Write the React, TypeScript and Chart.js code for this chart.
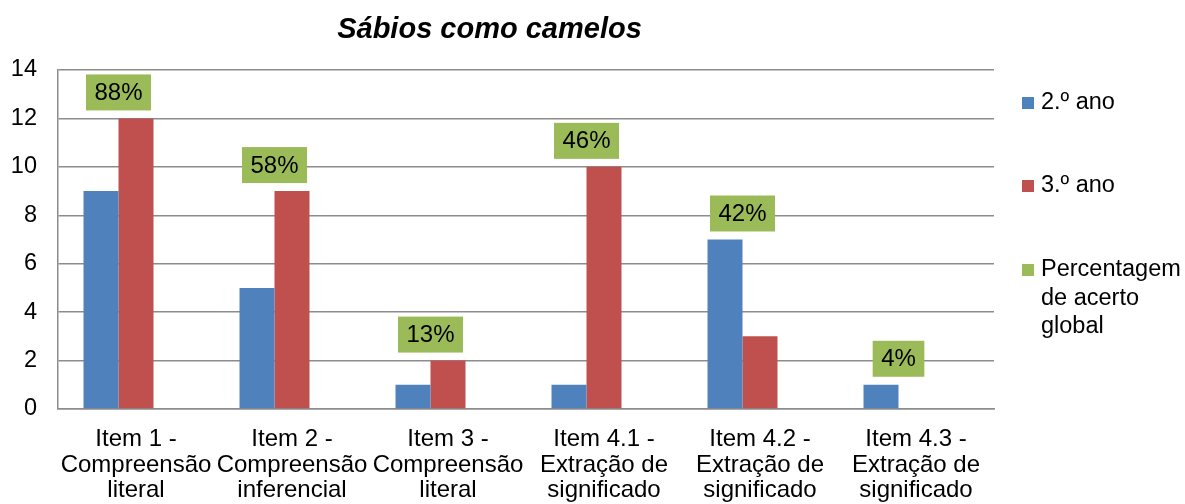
import React, { useEffect, useRef } from "react";
import { Chart, registerables } from "chart.js";
Chart.register(...registerables);

const TITLE = "Sábios como camelos";
const categories = [
  ["Item 1 -", "Compreensão", "literal"],
  ["Item 2 -", "Compreensão", "inferencial"],
  ["Item 3 -", "Compreensão", "literal"],
  ["Item 4.1 -", "Extração de", "significado"],
  ["Item 4.2 -", "Extração de", "significado"],
  ["Item 4.3 -", "Extração de", "significado"],
];
const seriesNames = ["2.º ano", "3.º ano", "Percentagem de acerto global"];
const legendLines = [["2.º ano"], ["3.º ano"], ["Percentagem", "de acerto", "global"]];
const ano2 = [9, 5, 1, 1, 7, 1];
const ano3 = [12, 9, 2, 10, 3, 0];
const acertoGlobal = [88, 58, 13, 46, 42, 4];
const yMin = 0;
const yMax = 14;
const yStep = 2;

const BLUE = "#4F81BD";
const RED = "#C0504D";
const GREEN = "#9BBB59";
const FONT = "'Liberation Sans', Arial, sans-serif";

export default function App() {
  const ref = useRef<HTMLCanvasElement>(null);
  useEffect(() => {
    document.body.style.margin = "0";
    const canvas = ref.current!;

    const pctPlugin = {
      id: "pctLabels",
      afterDatasetsDraw(chart: any) {
        const c = chart.ctx;
        const m0 = chart.getDatasetMeta(0);
        const ys = chart.scales.y;
        c.save();
        c.font = `24px ${FONT}`;
        acertoGlobal.forEach((p, i) => {
          const top = ys.getPixelForValue(Math.max(ano2[i], ano3[i]));
          const b = m0.data[i].getProps(["x", "width"], true);
          const cx = b.x + b.width / 2;
          const text = p + "%";
          const w = c.measureText(text).width + 17;
          const h = 36;
          const bottom = top - 8;
          c.fillStyle = GREEN;
          c.fillRect(cx - w / 2, bottom - h, w, h);
          c.fillStyle = "#000";
          c.textAlign = "center";
          c.textBaseline = "middle";
          c.fillText(text, cx, bottom - h / 2 + 1);
        });
        c.restore();
      },
    };

    const decoPlugin = {
      id: "deco",
      afterDraw(chart: any) {
        const c = chart.ctx;
        const a = chart.chartArea;
        c.save();
        c.font = `italic bold 29px ${FONT}`;
        c.fillStyle = "#000";
        c.textAlign = "center";
        c.textBaseline = "middle";
        c.fillText(TITLE, a.left + (a.right - a.left) * 0.461, 30);
        const colors = [BLUE, RED, GREEN];
        const itemY = [103, 186, 270];
        c.font = `23.5px ${FONT}`;
        c.textAlign = "left";
        legendLines.forEach((lines, i) => {
          c.fillStyle = colors[i];
          c.fillRect(a.right + 28, itemY[i] - 6, 12, 12);
          c.fillStyle = "#000";
          lines.forEach((ln, j) => {
            c.fillText(ln, a.right + 47, itemY[i] + j * 28.5);
          });
        });
        c.restore();
      },
    };

    const chart = new Chart(canvas, {
      type: "bar",
      data: {
        labels: categories,
        datasets: [
          { label: seriesNames[0], data: ano2, backgroundColor: BLUE },
          { label: seriesNames[1], data: ano3, backgroundColor: RED },
          { label: seriesNames[2], data: acertoGlobal.map(() => null), backgroundColor: GREEN },
        ],
      },
      options: {
        responsive: false,
        animation: false,
        devicePixelRatio: 1,
        layout: { padding: { top: 70, right: 191, bottom: 0, left: 0 } },
        datasets: { bar: { categoryPercentage: 0.673, barPercentage: 1 } },
        plugins: {
          legend: { display: false },
          title: { display: false },
          tooltip: { enabled: false },
        },
        scales: {
          x: {
            grid: { display: false, drawTicks: false },
            border: { display: true, color: "#8c8c8c", width: 1.5 },
            ticks: {
              color: "#000",
              font: { family: FONT, size: 24, lineHeight: 1.06 },
              padding: 18,
              maxRotation: 0,
              autoSkip: false,
            },
            afterFit: (s: any) => {
              s.height = 95;
            },
          },
          y: {
            min: yMin,
            max: yMax,
            ticks: {
              stepSize: yStep,
              color: "#000",
              font: { family: FONT, size: 23.5 },
              padding: 21,
            },
            grid: { color: "#8c8c8c", lineWidth: 1.5, drawTicks: false },
            border: { display: true, color: "#8c8c8c", width: 1.5 },
            afterFit: (s: any) => {
              s.width = 58;
            },
          },
        },
      },
      plugins: [pctPlugin, decoPlugin],
    });
    return () => chart.destroy();
  }, []);
  return <canvas ref={ref} width={1185} height={504} style={{ display: "block" }} />;
}
